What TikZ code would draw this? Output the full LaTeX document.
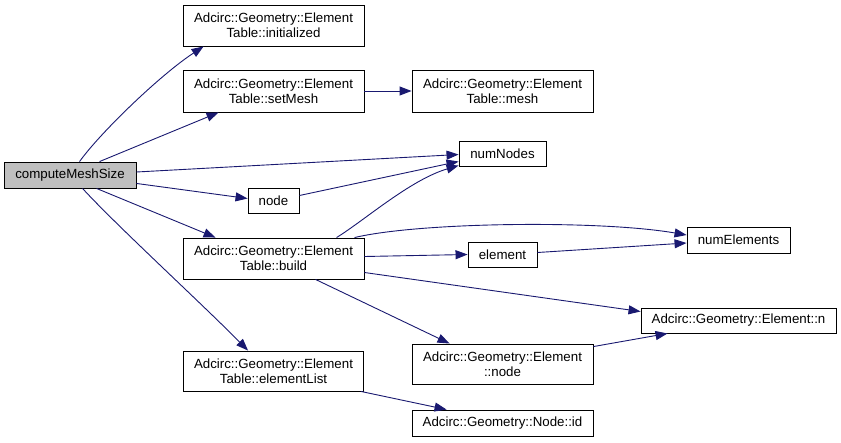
\documentclass[tikz,border=0pt]{standalone}
\usepackage{fontspec}
\setmainfont{Liberation Sans}
\usetikzlibrary{arrows.meta,calc}
\definecolor{edgec}{HTML}{191970}
\definecolor{grayfill}{HTML}{BFBFBF}
\tikzset{
  box/.style={draw=black,line width=0.9pt,fill=white,inner sep=0pt,align=center,
    font=\fontsize{13.3}{15}\selectfont},
  edge/.style={draw=edgec,line width=0.9pt,-{Triangle[length=12pt,width=9pt]}},
}
\begin{document}
\begin{tikzpicture}[x=1pt,y=-1pt]
\useasboundingbox (0,0) rectangle (841,442);
% nodes
\node[box,fill=grayfill,minimum width=132pt,minimum height=26pt] (cms) at (70,175) {computeMeshSize};
\node[box,minimum width=181pt,minimum height=41pt] (init) at (273.5,25.5) {Adcirc::Geometry::Element\\Table::initialized};
\node[box,minimum width=181pt,minimum height=42pt] (setm) at (273.5,91) {Adcirc::Geometry::Element\\Table::setMesh};
\node[box,minimum width=181pt,minimum height=42pt] (mesh) at (502.5,91) {Adcirc::Geometry::Element\\Table::mesh};
\node[box,minimum width=87pt,minimum height=25pt] (nn) at (502.5,153.5) {numNodes};
\node[box,minimum width=51pt,minimum height=25pt] (node) at (273.5,200.5) {node};
\node[box,minimum width=181pt,minimum height=41pt] (build) at (273.5,258.5) {Adcirc::Geometry::Element\\Table::build};
\node[box,minimum width=69pt,minimum height=25pt] (elem) at (502.5,254.5) {element};
\node[box,minimum width=103pt,minimum height=26pt] (ne) at (738.5,240) {numElements};
\node[box,minimum width=195pt,minimum height=25pt] (en) at (738.5,320.5) {Adcirc::Geometry::Element::n};
\node[box,minimum width=181pt,minimum height=40pt] (enode) at (502.5,364) {Adcirc::Geometry::Element\\::node};
\node[box,minimum width=181pt,minimum height=26pt] (id) at (502.5,423) {Adcirc::Geometry::Node::id};
\node[box,minimum width=180pt,minimum height=40pt] (elist) at (273.5,371) {Adcirc::Geometry::Element\\Table::elementList};
% edges
\draw[edge] ($(cms.north west)+(76,0)$) .. controls (100,133) and (160,75) .. ($(init.south west)+(21,0)$);
\draw[edge] ($(cms.north west)+(96,0)$) -- ($(setm.south west)+(36,0)$);
\draw[edge] (setm.east) -- (mesh.west);
\draw[edge] ($(cms.east)+(0,-3)$) -- ($(nn.west)+(0,1)$);
\draw[edge] ($(cms.south east)+(0,-5)$) -- ($(node.west)+(0,-2)$);
\draw[edge] ($(node.east)+(0,-5)$) -- ($(nn.west)+(0,8)$);
\draw[edge] ($(cms.south west)+(93,0)$) -- ($(build.north west)+(33,0)$);
\draw[edge] ($(cms.south west)+(79,0)$) .. controls (115,224) and (200,302) .. ($(elist.north west)+(65,0)$);
\draw[edge] ($(build.north west)+(154,0)$) .. controls (365,220) and (410,180) .. ($(nn.west)+(0,12)$);
\draw[edge] ($(build.north west)+(172,0)$) .. controls (420,222) and (600,220) .. ($(ne.west)+(0,-5)$);
\draw[edge] ($(build.east)+(0,-2)$) -- (elem.west);
\draw[edge] ($(elem.east)+(0,-2)$) -- ($(ne.west)+(0,3)$);
\draw[edge] ($(build.east)+(0,14)$) -- ($(en.west)+(0,-9)$);
\draw[edge] ($(build.south west)+(133,0)$) -- ($(enode.north west)+(38,0)$);
\draw[edge] ($(enode.north east)+(0,3)$) -- ($(en.south west)+(27,0)$);
\draw[edge] ($(elist.south east)+(-3,0)$) -- ($(id.north west)+(35,0)$);
\end{tikzpicture}
\end{document}
